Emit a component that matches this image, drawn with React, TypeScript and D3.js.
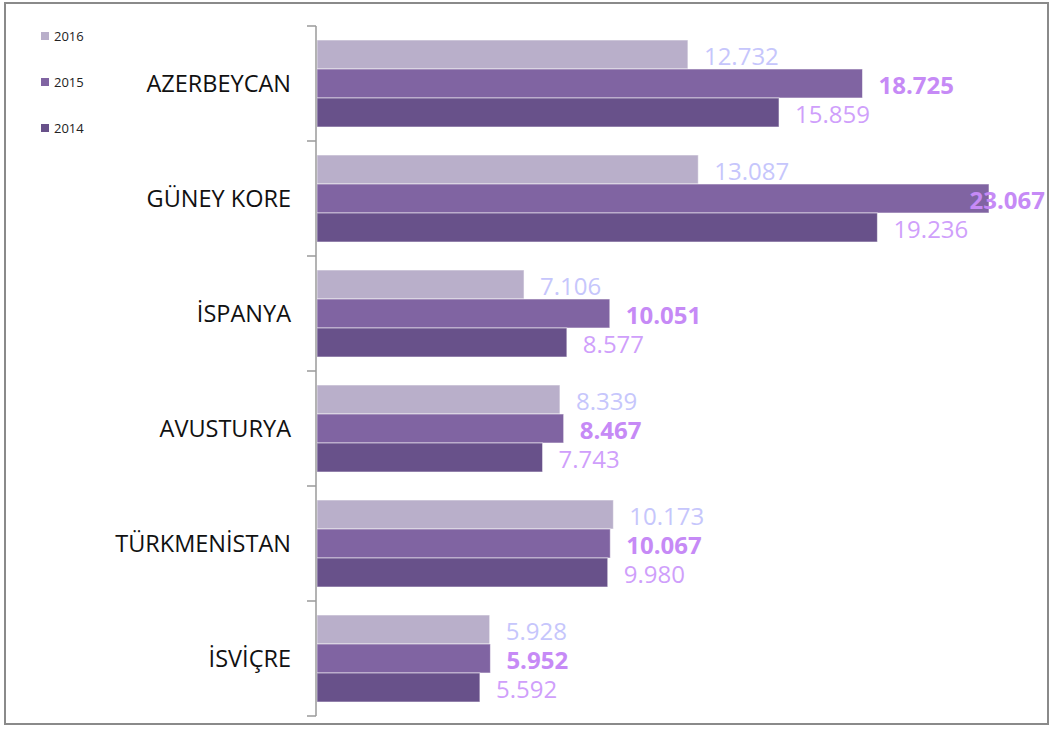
import React from "react";
import * as d3 from "d3";

const categories = ["AZERBEYCAN", "GÜNEY KORE", "İSPANYA", "AVUSTURYA", "TÜRKMENİSTAN", "İSVİÇRE"];
const seriesNames = ["2016", "2015", "2014"];
const values2016 = [12.732, 13.087, 7.106, 8.339, 10.173, 5.928];
const values2015 = [18.725, 23.067, 10.051, 8.467, 10.067, 5.952];
const values2014 = [15.859, 19.236, 8.577, 7.743, 9.98, 5.592];

const barColors = ["#b9afca", "#8064a2", "#68518a"];
const labelColors = ["#c6c6fc", "#c68af6", "#cf9ffb"];
const labelWeights = [400, 700, 400];

const W = 1051;
const H = 729;
const FONT = "'Open Sans', 'Noto Sans', sans-serif";

export default function App() {
  const series = [values2016, values2015, values2014];
  const maxV = d3.max(values2015.concat(values2016, values2014)) as number;
  const x = d3.scaleLinear().domain([0, maxV]).range([317, 989]);
  const y = d3.scaleBand<string>().domain(categories).range([26, 716]).paddingInner(0).paddingOuter(0);
  const inner = d3.scaleBand<string>().domain(seriesNames).range([14, y.bandwidth() - 14]);
  const labelRight = 1045;
  const estWidth = (s: string, bold: boolean) => s.length * (bold ? 14.5 : 13.5);

  const ticks = categories.map((c) => y(c) as number).concat([716]);

  return (
    <svg width={W} height={H} style={{ position: "absolute", left: 0, top: 0, background: "#fff" }}>
      <rect x={5} y={3} width={1043} height={721} fill="#fff" stroke="#8a8a8a" strokeWidth={2} />
      {/* legend */}
      {seriesNames.map((s, i) => (
        <g key={s} transform={`translate(41, ${32 + i * 46})`}>
          <rect x={0} y={0} width={8} height={8} fill={barColors[i]} />
          <text x={13} y={4} dy="0.36em" fontFamily={FONT} fontSize={13} fill="#222">
            {s}
          </text>
        </g>
      ))}
      {/* bars */}
      {categories.map((c, ci) => (
        <g key={c}>
          {series.map((vals, si) => {
            const y0 = (y(c) as number) + (inner(seriesNames[si]) as number);
            const h = inner.bandwidth();
            const x1 = x(vals[ci]);
            const label = vals[ci].toFixed(3);
            const bold = labelWeights[si] === 700;
            let lx = x1 + 16;
            let anchor: "start" | "end" = "start";
            if (lx + estWidth(label, bold) > labelRight) {
              lx = labelRight;
              anchor = "end";
            }
            return (
              <g key={si}>
                <rect
                  x={x(0)}
                  y={y0}
                  width={x1 - x(0)}
                  height={h}
                  fill={barColors[si]}
                  stroke="rgba(255,255,255,0.55)"
                  strokeWidth={1}
                />
                <text
                  x={lx}
                  y={y0 + h / 2 + 2}
                  dy="0.36em"
                  textAnchor={anchor}
                  fontFamily={FONT}
                  fontSize={24}
                  fontWeight={labelWeights[si]}
                  fill={labelColors[si]}
                >
                  {label}
                </text>
              </g>
            );
          })}
          <text
            x={291}
            y={(y(c) as number) + y.bandwidth() / 2}
            dy="0.36em"
            textAnchor="end"
            fontFamily={FONT}
            fontSize={23.5}
            fill="#111"
          >
            {c}
          </text>
        </g>
      ))}
      {/* axis */}
      <line x1={316} x2={316} y1={26} y2={716} stroke="#9a9a9a" strokeWidth={1.5} />
      {ticks.map((t, i) => (
        <line key={i} x1={307} x2={316} y1={t} y2={t} stroke="#9a9a9a" strokeWidth={1.5} />
      ))}
    </svg>
  );
}
